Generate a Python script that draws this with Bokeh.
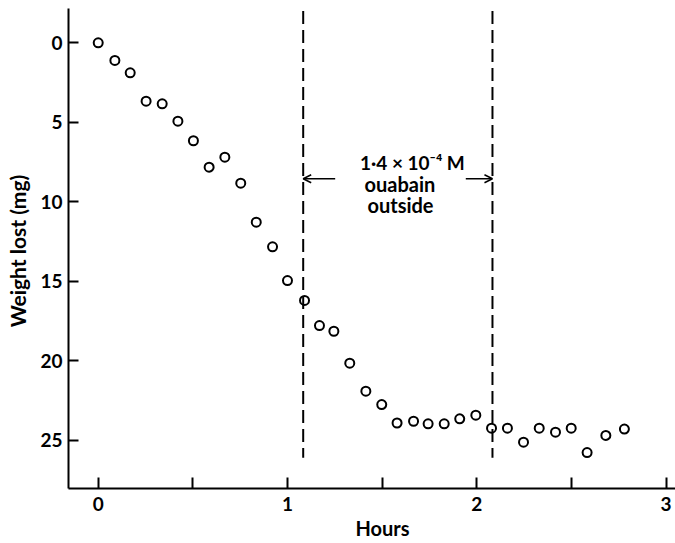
from bokeh.plotting import figure
from bokeh.models import Range1d, FixedTicker, Label, Arrow, OpenHead, ColumnDataSource, Title
from bokeh.embed import file_html
from bokeh.resources import INLINE

# Data
hours = [0, 0.088, 0.169, 0.253, 0.338, 0.421, 0.503, 0.586, 0.669, 0.753,
         0.835, 0.921, 1.0, 1.09, 1.169, 1.245, 1.329, 1.414, 1.498, 1.579,
         1.666, 1.743, 1.828, 1.91, 1.995, 2.078, 2.162, 2.247, 2.33, 2.416,
         2.499, 2.583, 2.682, 2.78]
weight_lost = [0, 1.11, 1.89, 3.67, 3.84, 4.93, 6.16, 7.82, 7.19, 8.83,
               11.28, 12.83, 14.95, 16.2, 17.78, 18.14, 20.15, 21.91, 22.75, 23.91,
               23.8, 23.96, 23.96, 23.65, 23.42, 24.24, 24.24, 25.12, 24.24, 24.49,
               24.24, 25.77, 24.69, 24.29]
ouabain_times = [1.083, 2.083]
x_ticks = [0, 1, 2, 3]
x_minor_ticks = [0.5, 1.5, 2.5]
y_ticks = [0, 5, 10, 15, 20, 25]

FONT = "Lato"

p = figure(width=675, height=543, output_backend="svg", toolbar_location=None,
           x_range=Range1d(-0.157, 3.05), y_range=Range1d(28.03, -2.157),
           min_border_left=68, min_border_right=0, min_border_top=8,
           min_border_bottom=55)
p.outline_line_color = None
p.grid.visible = False
p.background_fill_color = "white"
p.border_fill_color = "white"

for ax in (p.xaxis[0], p.yaxis[0]):
    ax.axis_line_width = 2
    ax.axis_line_color = "black"
    ax.major_tick_line_width = 2
    ax.major_tick_line_color = "black"
    ax.minor_tick_line_width = 2
    ax.minor_tick_line_color = "black"
    ax.major_tick_out = 0
    ax.minor_tick_out = 0
    ax.major_label_text_font = FONT
    ax.major_label_text_font_style = "bold"
    ax.major_label_text_font_size = "19px"
    ax.major_label_text_color = "black"
    ax.axis_label_text_font = FONT
    ax.axis_label_text_font_style = "bold"
    ax.axis_label_text_font_size = "21px"
    ax.axis_label_text_color = "black"

p.xaxis.ticker = FixedTicker(ticks=x_ticks, minor_ticks=x_minor_ticks)
p.xaxis.major_tick_in = 11
p.xaxis.minor_tick_in = 11
p.xaxis.major_label_standoff = 8

p.yaxis.ticker = FixedTicker(ticks=y_ticks, minor_ticks=[])
p.yaxis.major_tick_in = 10
p.yaxis.minor_tick_in = 0
p.yaxis.major_label_standoff = 6
p.yaxis.axis_label = "Weight lost  (mg)"
p.yaxis.axis_label_standoff = 7

# x-axis title, centred at 1.5 h as in the original
p.add_layout(Title(text="Hours", align="left", offset=287, standoff=0,
                   text_font=FONT, text_font_style="bold", text_font_size="20px",
                   text_color="black"), "below")

# dashed lines marking ouabain period
seg = ColumnDataSource(dict(x=ouabain_times, y0=[-2.0] * len(ouabain_times),
                            y1=[26.1] * len(ouabain_times)))
p.segment(x0="x", y0="y0", x1="x", y1="y1", source=seg, line_color="black",
          line_width=2, line_dash="13 6")

# data points
p.scatter(hours, weight_lost, marker="circle", size=9, line_color="black",
          line_width=2, fill_color=None)

# annotation
p.add_layout(Label(x=1.66, y=7.5, text="1·4 × 10⁻⁴ M", text_align="center",
                   text_baseline="alphabetic", text_font=FONT, text_font_style="bold",
                   text_font_size="19px", text_color="black"))
p.add_layout(Label(x=1.594, y=8.85, text="ouabain", text_align="center",
                   text_baseline="alphabetic", text_font=FONT, text_font_style="bold",
                   text_font_size="20px", text_color="black"))
p.add_layout(Label(x=1.597, y=10.2, text="outside", text_align="center",
                   text_baseline="alphabetic", text_font=FONT, text_font_style="bold",
                   text_font_size="20px", text_color="black"))
p.add_layout(Arrow(x_start=1.252, y_start=8.55, x_end=ouabain_times[0], y_end=8.55,
                   line_width=1.5, end=OpenHead(size=8, line_width=1.5)))
p.add_layout(Arrow(x_start=1.942, y_start=8.55, x_end=ouabain_times[1], y_end=8.55,
                   line_width=1.5, end=OpenHead(size=8, line_width=1.5)))

open("out.html", "w").write(file_html(p, INLINE))
